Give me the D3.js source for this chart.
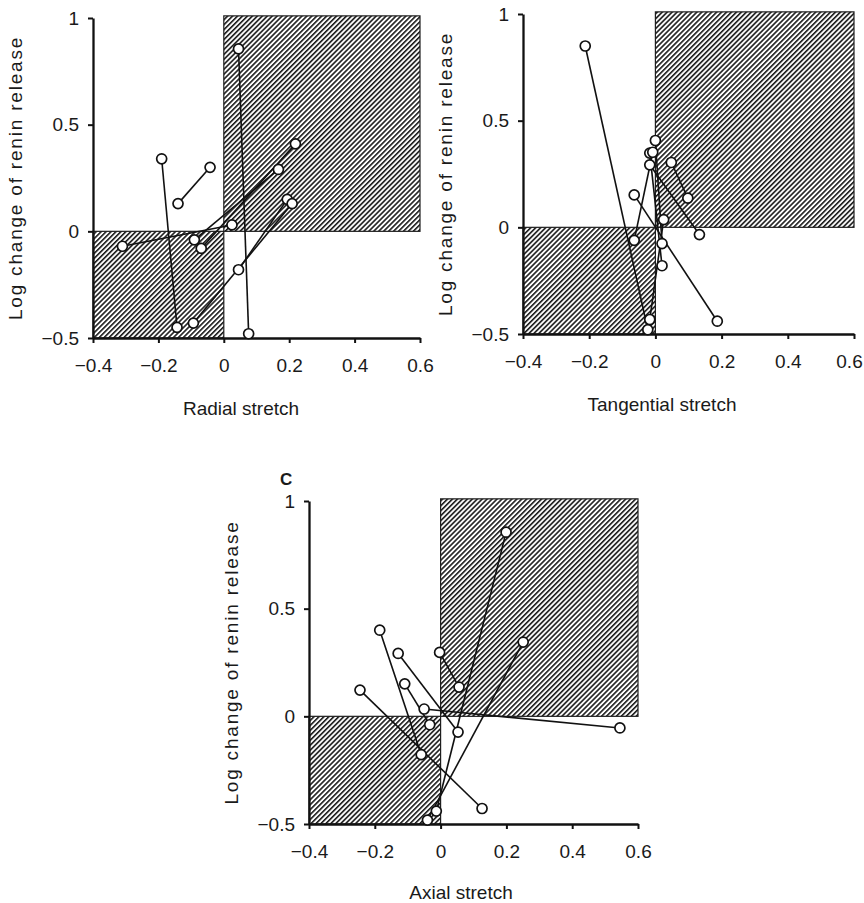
<!DOCTYPE html>
<html>
<head>
<meta charset="utf-8">
<script src="https://cdn.jsdelivr.net/npm/d3@7"></script>
<style>
	body { margin: 0; background: #fff; }
	svg { display: block; }
	text { font-family: "Liberation Sans", Arial, sans-serif; fill: #1a1a1a; }
</style>
</head>
<body>
<div id="chart"></div>
<script>
(function () {

	'use strict';

	// axis ticks shared by the three panels
	let xTicks = [-0.4, -0.2, 0, 0.2, 0.4, 0.6];
	let yTicks = [-0.5, 0, 0.5, 1];

	// each entry is one kidney: [stretch, log change] before -> after
	let radialPairs = [
		[[0.045, 0.855], [0.076, -0.48]],
		[[-0.19, 0.34], [-0.143, -0.45]],
		[[-0.14, 0.13], [-0.042, 0.30]],
		[[-0.31, -0.07], [0.025, 0.03]],
		[[-0.09, -0.04], [0.167, 0.29]],
		[[-0.069, -0.08], [0.219, 0.41]],
		[[0.045, -0.18], [0.194, 0.15]],
		[[-0.093, -0.43], [0.209, 0.13]]
	];

	let tangentialPairs = [
		[[-0.212, 0.85], [-0.023, -0.48]],
		[[-0.064, 0.152], [0.187, -0.44]],
		[[-0.017, 0.293], [0.133, -0.034]],
		[[0.048, 0.304], [0.098, 0.137]],
		[[-0.017, -0.432], [0.025, 0.036]],
		[[0.0, 0.407], [0.02, -0.076]],
		[[-0.017, 0.348], [0.02, -0.18]],
		[[-0.064, -0.061], [-0.008, 0.352]]
	];

	let axialPairs = [
		[[0.199, 0.855], [-0.013, -0.44]],
		[[0.251, 0.345], [-0.04, -0.482]],
		[[-0.185, 0.40], [-0.059, -0.178]],
		[[-0.129, 0.292], [0.053, -0.073]],
		[[-0.003, 0.297], [0.056, 0.136]],
		[[-0.109, 0.151], [-0.033, -0.039]],
		[[-0.245, 0.122], [0.126, -0.428]],
		[[-0.05, 0.034], [0.545, -0.054]]
	];

	let width = 864, height = 903;

	let svg = d3.select('#chart').append('svg')
		.attr('width', width)
		.attr('height', height);

	// diagonal hatching used for the two "expected" quadrants
	let defs = svg.append('defs');
	defs.append('pattern')
		.attr('id', 'hatch')
		.attr('patternUnits', 'userSpaceOnUse')
		.attr('width', 3.5)
		.attr('height', 3.5)
		.attr('patternTransform', 'rotate(45)')
		.append('line')
		.attr('x1', 0.8).attr('y1', 0)
		.attr('x2', 0.8).attr('y2', 3.5)
		.attr('stroke', '#1a1a1a')
		.attr('stroke-width', 1.6);

	let minus = function (d) {
		return (d < 0 ? '\u2212' : '') + Math.abs(d);
	};

	let panels = [
		{ data: radialPairs, left: 93, right: 420, top: 18, bottom: 338,
			xTitle: 'Radial stretch', titleX: 241, titleY: 415, yTitleX: 22 },
		{ data: tangentialPairs, left: 523, right: 854, top: 14, bottom: 334,
			xTitle: 'Tangential stretch', titleX: 662, titleY: 411, yTitleX: 452, lastTickShift: -5 },
		{ data: axialPairs, left: 309, right: 638, top: 501, bottom: 824,
			xTitle: 'Axial stretch', titleX: 461, titleY: 899, yTitleX: 238, label: 'C' }
	];

	panels.forEach(drawPanel);

	function drawPanel(p) {

		let x = d3.scaleLinear().domain([-0.4, 0.6]).range([p.left, p.right]);
		let y = d3.scaleLinear().domain([-0.5, 1]).range([p.bottom, p.top]);
		let g = svg.append('g');

		// hatched quadrants
		let hatchTop = y(1.01);
		g.append('rect')
			.attr('x', x(0)).attr('y', hatchTop)
			.attr('width', x(0.6) - x(0)).attr('height', y(0) - hatchTop)
			.attr('fill', 'url(#hatch)')
			.attr('stroke', '#1e1e1e').attr('stroke-width', 1.2);
		g.append('rect')
			.attr('x', x(-0.4)).attr('y', y(0))
			.attr('width', x(0) - x(-0.4)).attr('height', y(-0.5) - y(0))
			.attr('fill', 'url(#hatch)')
			.attr('stroke', '#1e1e1e').attr('stroke-width', 1.2);

		// axes
		let xAxis = g.append('g')
			.attr('transform', 'translate(0,' + p.bottom + ')')
			.call(d3.axisBottom(x).tickValues(xTicks).tickFormat(minus).tickSize(5).tickSizeOuter(0).tickPadding(16));
		let yAxis = g.append('g')
			.attr('transform', 'translate(' + p.left + ',0)')
			.call(d3.axisLeft(y).tickValues(yTicks).tickFormat(minus).tickSize(5).tickSizeOuter(0).tickPadding(9));

		[xAxis, yAxis].forEach(function (a) {
			a.select('.domain').attr('stroke', '#111').attr('stroke-width', 2.3);
			a.selectAll('.tick line').attr('stroke', '#111').attr('stroke-width', 2);
			a.selectAll('.tick text')
				.attr('fill', '#1a1a1a')
				.style('font-size', '19px')
				.style('font-family', '"Liberation Sans", Arial, sans-serif');
		});

		// keep the right-most x label inside the page
		if (p.lastTickShift) {
			xAxis.selectAll('.tick text')
				.filter(function (d) { return d === 0.6; })
				.attr('dx', p.lastTickShift);
		}

		// connecting lines
		g.selectAll('line.pair')
			.data(p.data)
			.enter().append('line')
			.attr('class', 'pair')
			.attr('x1', function (d) { return x(d[0][0]); })
			.attr('y1', function (d) { return y(d[0][1]); })
			.attr('x2', function (d) { return x(d[1][0]); })
			.attr('y2', function (d) { return y(d[1][1]); })
			.attr('stroke', '#111')
			.attr('stroke-width', 1.6);

		// open circles
		let points = [];
		p.data.forEach(function (d) { points.push(d[0], d[1]); });
		g.selectAll('circle')
			.data(points)
			.enter().append('circle')
			.attr('cx', function (d) { return x(d[0]); })
			.attr('cy', function (d) { return y(d[1]); })
			.attr('r', 5)
			.attr('fill', '#fff')
			.attr('stroke', '#111')
			.attr('stroke-width', 1.7);

		// titles
		g.append('text')
			.attr('x', p.titleX).attr('y', p.titleY)
			.attr('text-anchor', 'middle')
			.style('font-size', '19px')
			.text(p.xTitle);

		g.append('text')
			.attr('transform', 'translate(' + p.yTitleX + ',' + ((p.top + p.bottom) / 2) + ') rotate(-90)')
			.attr('text-anchor', 'middle')
			.style('font-size', '19px')
			.style('letter-spacing', '1.8px')
			.text('Log change of renin release');

		if (p.label) {
			g.append('text')
				.attr('x', p.left - 29).attr('y', p.top - 16)
				.style('font-size', '17px')
				.style('font-weight', 'bold')
				.text(p.label);
		}
	}

})();
</script>
</body>
</html>
